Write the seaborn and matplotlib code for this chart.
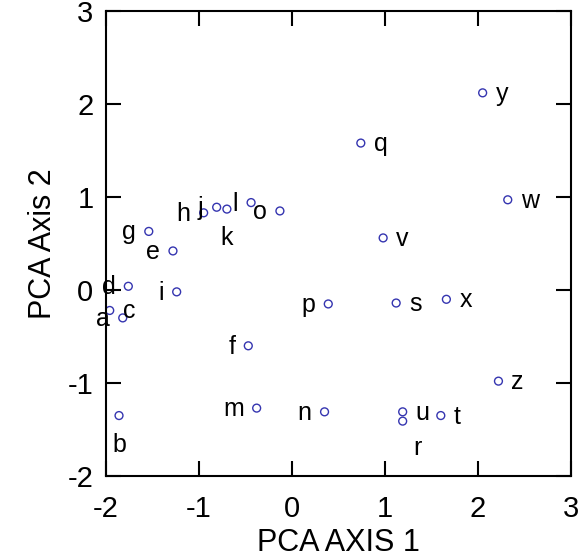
import matplotlib
matplotlib.use("Agg")
import matplotlib.pyplot as plt
import seaborn as sns
import pandas as pd

# ---- data ----
labels = list("abcdefghijklmnopqrstuvwxyz")
pca1 = [-1.82, -1.86, -1.96, -1.76, -1.28, -0.47, -1.54, -0.95, -1.24, -0.81,
        -0.70, -0.44, -0.38, 0.35, -0.13, 0.39, 0.74, 1.19, 1.12, 1.60,
        1.19, 0.98, 2.32, 1.66, 2.05, 2.22]
pca2 = [-0.30, -1.35, -0.22, 0.04, 0.42, -0.60, 0.63, 0.83, -0.02, 0.89,
        0.87, 0.94, -1.27, -1.31, 0.85, -0.15, 1.58, -1.41, -0.14, -1.35,
        -1.31, 0.56, 0.97, -0.10, 2.12, -0.98]
# label placement relative to point: L=left, R=right, B=below, BR=below-right
placement = ["L", "B", "R", "L", "L", "L", "L", "L", "L", "L",
             "B", "L", "L", "L", "L", "L", "R", "BR", "R", "R",
             "R", "R", "R", "R", "R", "R"]
xticks = [-2, -1, 0, 1, 2, 3]
yticks = [-2, -1, 0, 1, 2, 3]

df = pd.DataFrame({"PCA1": pca1, "PCA2": pca2, "label": labels, "pos": placement})

sns.set_theme(style="white")
plt.rcParams["font.family"] = ["Liberation Sans", "DejaVu Sans"]

W, H = 585, 560
fig = plt.figure(figsize=(W / 100, H / 100), dpi=100)
ax = fig.add_axes([106 / W, (H - 476) / H, (571 - 106) / W, (476 - 11) / H])

sns.scatterplot(data=df, x="PCA1", y="PCA2", ax=ax, marker="o", s=32,
                facecolors="none", edgecolor="#3535b0", linewidth=1.0,
                legend=False)

px = 0.72  # points per pixel
offsets = {
    "L": (-13 * px, -8 * px, "right"),
    "R": (13 * px, -8 * px, "left"),
    "B": (0, -36 * px, "center"),
    "BR": (15 * px, -34 * px, "center"),
}
for _, row in df.iterrows():
    dx, dy, ha = offsets[row["pos"]]
    ax.annotate(row["label"], (row["PCA1"], row["PCA2"]), xytext=(dx, dy),
                textcoords="offset points", ha=ha, va="baseline",
                fontsize=18, color="black", annotation_clip=False)

ax.set_xlim(-2, 3)
ax.set_ylim(-2, 3)
ax.set_xticks(xticks)
ax.set_yticks(yticks)
ax.set_xticklabels([str(t) for t in xticks])
ax.set_yticklabels([str(t) for t in yticks])
ax.tick_params(direction="in", length=11, width=1.5, colors="black",
               labelsize=21, top=True, right=True, bottom=True, left=True,
               labeltop=False, labelright=False)
ax.tick_params(axis="x", pad=14)
ax.tick_params(axis="y", pad=9)
for sp in ax.spines.values():
    sp.set_visible(True)
    sp.set_color("black")
    sp.set_linewidth(1.5)
ax.set_xlabel("PCA AXIS 1", fontsize=22, labelpad=3, color="black")
ax.set_ylabel("PCA Axis 2", fontsize=22, labelpad=7, color="black")
ax.grid(False)

fig.savefig("out.png", dpi=100, facecolor="white")
